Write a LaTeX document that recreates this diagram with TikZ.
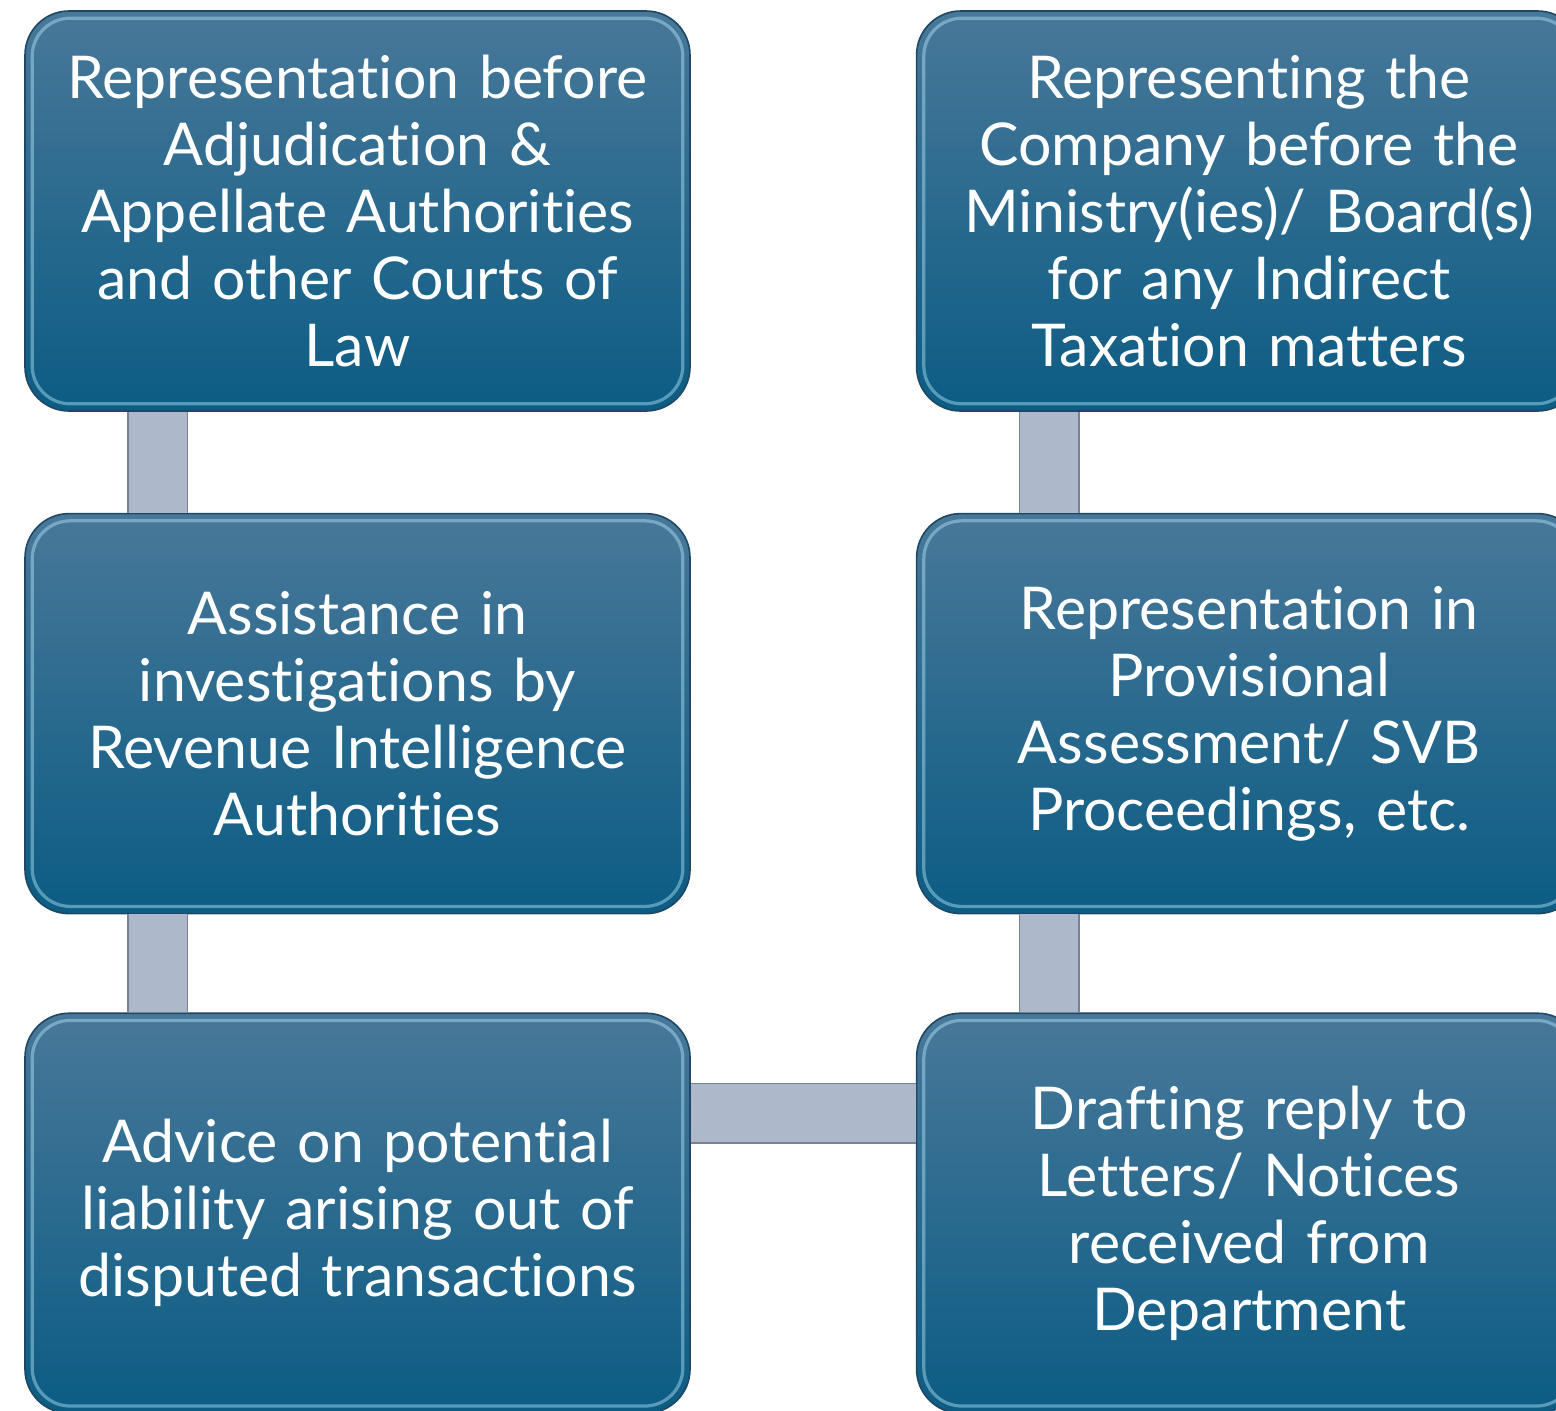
\documentclass[tikz,border=0pt]{standalone}
\usepackage{fontspec}
\setmainfont{Lato}[Ligatures={NoCommon,NoRare}]
\usetikzlibrary{positioning}
\definecolor{boxtop}{RGB}{72,120,153}
\definecolor{boxbottom}{RGB}{12,92,132}
\definecolor{boxedge}{RGB}{30,72,100}
\definecolor{barfill}{RGB}{173,185,202}
\definecolor{baredge}{RGB}{120,130,145}
\begin{document}
\begin{tikzpicture}
		[x=0.5pt,y=-0.5pt,
		task/.style={rectangle,rounded corners=22pt,draw=boxedge,line width=0.8pt,
			top color=boxtop,bottom color=boxbottom,text=white,
			minimum width=332.5pt,minimum height=200pt,text width=322pt,align=center,
			font=\fontsize{29.5}{33.5}\selectfont},
		bevel/.style={rounded corners=19pt,draw=cyan!30,line width=1.6pt,opacity=0.45},
		bar/.style={draw=baredge,line width=0.7pt,double=barfill,double distance=29pt}]
		\useasboundingbox (0,0) rectangle (1556,1410);
		\clip (0,0) rectangle (1556,1410);
		\node[task] (court) at (357.5,211) {Representation before\\ Adjudication \&\\ Appellate Authorities\\ and other Courts of\\ Law};
		\node[task,right=112.5pt of court] (ministry) {Representing the\\ Company before the\\ Ministry(ies)/ Board(s)\\ for any Indirect\\ Taxation matters};
		\node[task,below=50.5pt of court] (invest) {Assistance in\\ investigations by\\ Revenue Intelligence\\ Authorities};
		\node[task,below=50.5pt of ministry] (svb) {Representation in\\ Provisional\\ Assessment/ SVB\\ Proceedings, etc.};
		\node[task,below=49pt of invest] (advice) {Advice on potential\\ liability arising out of\\ disputed transactions};
		\node[task,below=49pt of svb] (reply) {Drafting reply to\\ Letters/ Notices\\ received from\\ Department};
		% light edge inside each box
		\foreach \n in {court,ministry,invest,svb,advice,reply}
			\draw[bevel] ([xshift=4pt,yshift=-4pt]\n.north west) rectangle ([xshift=-4pt,yshift=4pt]\n.south east);
		% connecting bars
		\draw[bar] ([xshift=-100pt]court.south) -- ([xshift=-100pt]invest.north);
		\draw[bar] ([xshift=-100pt]invest.south) -- ([xshift=-100pt]advice.north);
		\draw[bar] ([xshift=-100pt]ministry.south) -- ([xshift=-100pt]svb.north);
		\draw[bar] ([xshift=-100pt]svb.south) -- ([xshift=-100pt]reply.north);
		\draw[bar] ([yshift=50pt]advice.east) -- ([yshift=50pt]reply.west);
	\end{tikzpicture}
\end{document}
